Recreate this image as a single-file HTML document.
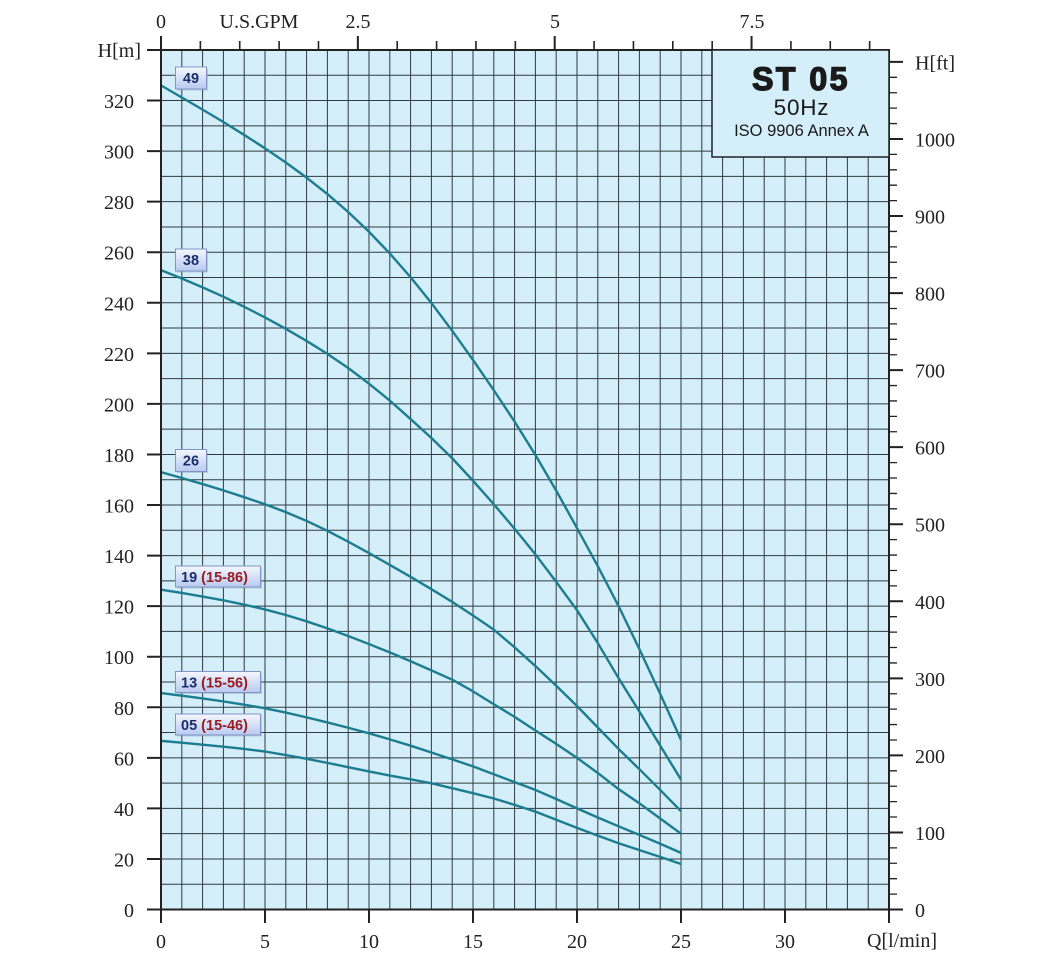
<!DOCTYPE html>
<html><head><meta charset="utf-8"><style>
html,body{margin:0;padding:0;background:#fff;}
svg{display:block;}
.ax{font-family:"Liberation Serif",serif;font-size:20px;fill:#222;}
.lb{font-family:"Liberation Sans",sans-serif;font-weight:bold;font-size:14.5px;}
</style></head><body>
<svg width="1049" height="960" viewBox="0 0 1049 960" xmlns="http://www.w3.org/2000/svg">
<defs>
<linearGradient id="bg" x1="0" y1="0" x2="0" y2="1">
<stop offset="0" stop-color="#f4f7fe"/><stop offset="1" stop-color="#b9caf0"/>
</linearGradient>
</defs>
<rect x="161" y="50" width="728" height="859.5" fill="#d4eefa"/>
<!-- grid -->
<g transform="translate(161,909.5) scale(20.8,-2.528)" stroke="#2f3b42" stroke-width="1" fill="none">
<path vector-effect="non-scaling-stroke" d="M1,0V340M2,0V340M3,0V340M4,0V340M5,0V340M6,0V340M7,0V340M8,0V340M9,0V340M10,0V340M11,0V340M12,0V340M13,0V340M14,0V340M15,0V340M16,0V340M17,0V340M18,0V340M19,0V340M20,0V340M21,0V340M22,0V340M23,0V340M24,0V340M25,0V340M26,0V340M27,0V340M28,0V340M29,0V340M30,0V340M31,0V340M32,0V340M33,0V340M34,0V340
M0,10H35M0,20H35M0,30H35M0,40H35M0,50H35M0,60H35M0,70H35M0,80H35M0,90H35M0,100H35M0,110H35M0,120H35M0,130H35M0,140H35M0,150H35M0,160H35M0,170H35M0,180H35M0,190H35M0,200H35M0,210H35M0,220H35M0,230H35M0,240H35M0,250H35M0,260H35M0,270H35M0,280H35M0,290H35M0,300H35M0,310H35M0,320H35M0,330H35"/>
</g>
<!-- curves -->
<g transform="translate(161,909.5) scale(20.8,-2.528)" stroke="#1c7d90" stroke-width="2.4" fill="none" stroke-linejoin="round">
<polyline vector-effect="non-scaling-stroke" points="0,326 1,321.2 2,316.4 3,311.5 4,306.4 5,301.1 6,295.5 7,289.5 8,283 9,275.9 10,268.1 11,259.5 12,250.1 13,239.9 14,228.9 15,217.4 16,205.4 17,193 18,179.8 19,165.7 20,150.9 21,135.8 22,120 23,103 24,85.3 25,67.1"/>
<polyline vector-effect="non-scaling-stroke" points="0,252.9 1,249.6 2,246.1 3,242.4 4,238.4 5,234.2 6,229.7 7,224.9 8,219.8 9,214.2 10,208 11,201.3 12,194 13,186.5 14,178.5 15,169.6 16,160.3 17,150.6 18,140.5 19,129.6 20,118.4 21,105.4 22,91.5 23,78.3 24,64.8 25,51.4"/>
<polyline vector-effect="non-scaling-stroke" points="0,173 1,170.7 2,168.3 3,165.8 4,163.1 5,160.3 6,157.2 7,153.7 8,149.8 9,145.5 10,141 11,136.3 12,131.6 13,126.7 14,121.7 15,116.3 16,110.7 17,103.7 18,96.3 19,88.5 20,80.5 21,72 22,63.5 23,55.5 24,47.3 25,38.9"/>
<polyline vector-effect="non-scaling-stroke" points="0,126.5 1,125.2 2,123.8 3,122.3 4,120.6 5,118.7 6,116.5 7,114 8,111.2 9,108.2 10,105 11,101.7 12,98.2 13,94.6 14,90.9 15,86.3 16,81.2 17,76.2 18,70.8 19,65.5 20,60 21,54 22,47.6 23,42 24,36 25,30"/>
<polyline vector-effect="non-scaling-stroke" points="0,85.6 1,84.6 2,83.5 3,82.3 4,81 5,79.6 6,77.9 7,76 8,74 9,71.9 10,69.7 11,67.3 12,64.8 13,62.1 14,59.4 15,56.6 16,53.5 17,50.4 18,47.3 19,43.7 20,40 21,36.4 22,32.9 23,29.5 24,26 25,22.4"/>
<polyline vector-effect="non-scaling-stroke" points="0,66.7 1,66 2,65.2 3,64.4 4,63.5 5,62.5 6,61.1 7,59.6 8,58 9,56.3 10,54.6 11,53 12,51.5 13,49.9 14,48 15,46 16,43.9 17,41.4 18,38.7 19,35.5 20,32.3 21,29.2 22,26.2 23,23.5 24,20.8 25,18"/>
</g>
<!-- plot border -->
<rect x="161" y="50" width="728" height="859.5" fill="none" stroke="#222" stroke-width="2"/>
<!-- title box -->
<rect x="712" y="50" width="177" height="107" fill="#d4eefa" stroke="#222" stroke-width="1.5"/>
<text x="801" y="90" text-anchor="middle" font-family="Liberation Sans, sans-serif" font-weight="bold" font-size="32" letter-spacing="2.5" fill="#1a1a1a" stroke="#1a1a1a" stroke-width="1.4">ST 05</text>
<text x="801.5" y="115" text-anchor="middle" font-family="Liberation Sans, sans-serif" font-size="22.5" letter-spacing="0.8" fill="#1a1a1a">50Hz</text>
<text x="801.5" y="136" text-anchor="middle" font-family="Liberation Sans, sans-serif" font-size="16.5" fill="#1a1a1a">ISO 9906 Annex A</text>
<!-- left ticks -->
<g stroke="#222" stroke-width="2">
<path d="M147,909.5H161M147,858.94H161M147,808.38H161M147,757.82H161M147,707.26H161M147,656.7H161M147,606.14H161M147,555.58H161M147,505.02H161M147,454.46H161M147,403.9H161M147,353.34H161M147,302.78H161M147,252.22H161M147,201.66H161M147,151.1H161M147,100.54H161M147,50H161"/>
<!-- bottom ticks -->
<path d="M161,909.5V923M265,909.5V923M369,909.5V923M473,909.5V923M577,909.5V923M681,909.5V923M785,909.5V923M889,909.5V923"/>
<!-- top ticks -->
<path d="M161,36V50M357.85,36V50M554.7,36V50M751.55,36V50"/>
<path stroke-width="1.6" d="M200.37,41V50M239.74,41V50M279.11,41V50M318.48,41V50M397.22,41V50M436.59,41V50M475.96,41V50M515.33,41V50M594.07,41V50M633.44,41V50M672.81,41V50M712.18,41V50M790.92,41V50M830.29,41V50M869.66,41V50"/>
</g>
<!-- right ticks (ft) -->
<g transform="translate(889,909.5) scale(1,-0.77053)" stroke="#222" fill="none">
<path vector-effect="non-scaling-stroke" stroke-width="2" d="M0,0h14M0,100h14M0,200h14M0,300h14M0,400h14M0,500h14M0,600h14M0,700h14M0,800h14M0,900h14M0,1000h14M0,1100h14"/>
<path vector-effect="non-scaling-stroke" stroke-width="1.3" d="M0,20h8M0,40h8M0,60h8M0,80h8M0,120h8M0,140h8M0,160h8M0,180h8M0,220h8M0,240h8M0,260h8M0,280h8M0,320h8M0,340h8M0,360h8M0,380h8M0,420h8M0,440h8M0,460h8M0,480h8M0,520h8M0,540h8M0,560h8M0,580h8M0,620h8M0,640h8M0,660h8M0,680h8M0,720h8M0,740h8M0,760h8M0,780h8M0,820h8M0,840h8M0,860h8M0,880h8M0,920h8M0,940h8M0,960h8M0,980h8M0,1020h8M0,1040h8M0,1060h8M0,1080h8"/>
</g>
<!-- left labels -->
<g class="ax" text-anchor="end">
<text x="134" y="917">0</text>
<text x="134" y="866.4">20</text>
<text x="134" y="815.9">40</text>
<text x="134" y="765.3">60</text>
<text x="134" y="714.8">80</text>
<text x="134" y="664.2">100</text>
<text x="134" y="613.6">120</text>
<text x="134" y="563.1">140</text>
<text x="134" y="512.5">160</text>
<text x="134" y="462">180</text>
<text x="134" y="411.4">200</text>
<text x="134" y="360.8">220</text>
<text x="134" y="310.3">240</text>
<text x="134" y="259.7">260</text>
<text x="134" y="209.2">280</text>
<text x="134" y="158.6">300</text>
<text x="134" y="108">320</text>
<text x="141" y="57">H[m]</text>
</g>
<!-- right labels -->
<g class="ax" text-anchor="start">
<text x="915" y="917">0</text>
<text x="915" y="840">100</text>
<text x="915" y="762.9">200</text>
<text x="915" y="685.8">300</text>
<text x="915" y="608.8">400</text>
<text x="915" y="531.7">500</text>
<text x="915" y="454.7">600</text>
<text x="915" y="377.6">700</text>
<text x="915" y="300.6">800</text>
<text x="915" y="223.5">900</text>
<text x="915" y="146.5">1000</text>
<text x="915" y="69.4">H[ft]</text>
</g>
<!-- bottom labels -->
<g class="ax" text-anchor="middle">
<text x="161" y="948">0</text>
<text x="265" y="948">5</text>
<text x="369" y="948">10</text>
<text x="473" y="948">15</text>
<text x="577" y="948">20</text>
<text x="681" y="948">25</text>
<text x="785" y="948">30</text>
<text x="902" y="947">Q[l/min]</text>
<!-- top labels -->
<text x="161" y="28">0</text>
<text x="259" y="28">U.S.GPM</text>
<text x="358" y="28">2.5</text>
<text x="555" y="28">5</text>
<text x="752" y="28">7.5</text>
</g>
<!-- series labels -->
<g>
<rect x="177" y="68.5" width="31" height="22" fill="#7a8aa8" opacity="0.35"/>
<rect x="175.5" y="67" width="31" height="22" fill="url(#bg)" stroke="#8095c5" stroke-width="1"/>
<text class="lb" x="191" y="83.2" text-anchor="middle" fill="#1c2d6e">49</text>

<rect x="177" y="250.5" width="31" height="22" fill="#7a8aa8" opacity="0.35"/>
<rect x="175.5" y="249" width="31" height="22" fill="url(#bg)" stroke="#8095c5" stroke-width="1"/>
<text class="lb" x="191" y="265.2" text-anchor="middle" fill="#1c2d6e">38</text>

<rect x="177" y="451" width="31" height="22" fill="#7a8aa8" opacity="0.35"/>
<rect x="175.5" y="449.5" width="31" height="22" fill="url(#bg)" stroke="#8095c5" stroke-width="1"/>
<text class="lb" x="191" y="465.7" text-anchor="middle" fill="#1c2d6e">26</text>

<rect x="177" y="567.5" width="85" height="21" fill="#7a8aa8" opacity="0.35"/>
<rect x="175.5" y="566" width="85" height="21" fill="url(#bg)" stroke="#8095c5" stroke-width="1"/>
<text class="lb" x="181" y="582"><tspan fill="#1c2d6e">19 </tspan><tspan fill="#9a1b1f">(15-86)</tspan></text>

<rect x="177" y="673" width="85" height="21" fill="#7a8aa8" opacity="0.35"/>
<rect x="175.5" y="671.5" width="85" height="21" fill="url(#bg)" stroke="#8095c5" stroke-width="1"/>
<text class="lb" x="181" y="687.5"><tspan fill="#1c2d6e">13 </tspan><tspan fill="#9a1b1f">(15-56)</tspan></text>

<rect x="177" y="715.5" width="85" height="21" fill="#7a8aa8" opacity="0.35"/>
<rect x="175.5" y="714" width="85" height="21" fill="url(#bg)" stroke="#8095c5" stroke-width="1"/>
<text class="lb" x="181" y="730"><tspan fill="#1c2d6e">05 </tspan><tspan fill="#9a1b1f">(15-46)</tspan></text>
</g>
</svg>
</body></html>
